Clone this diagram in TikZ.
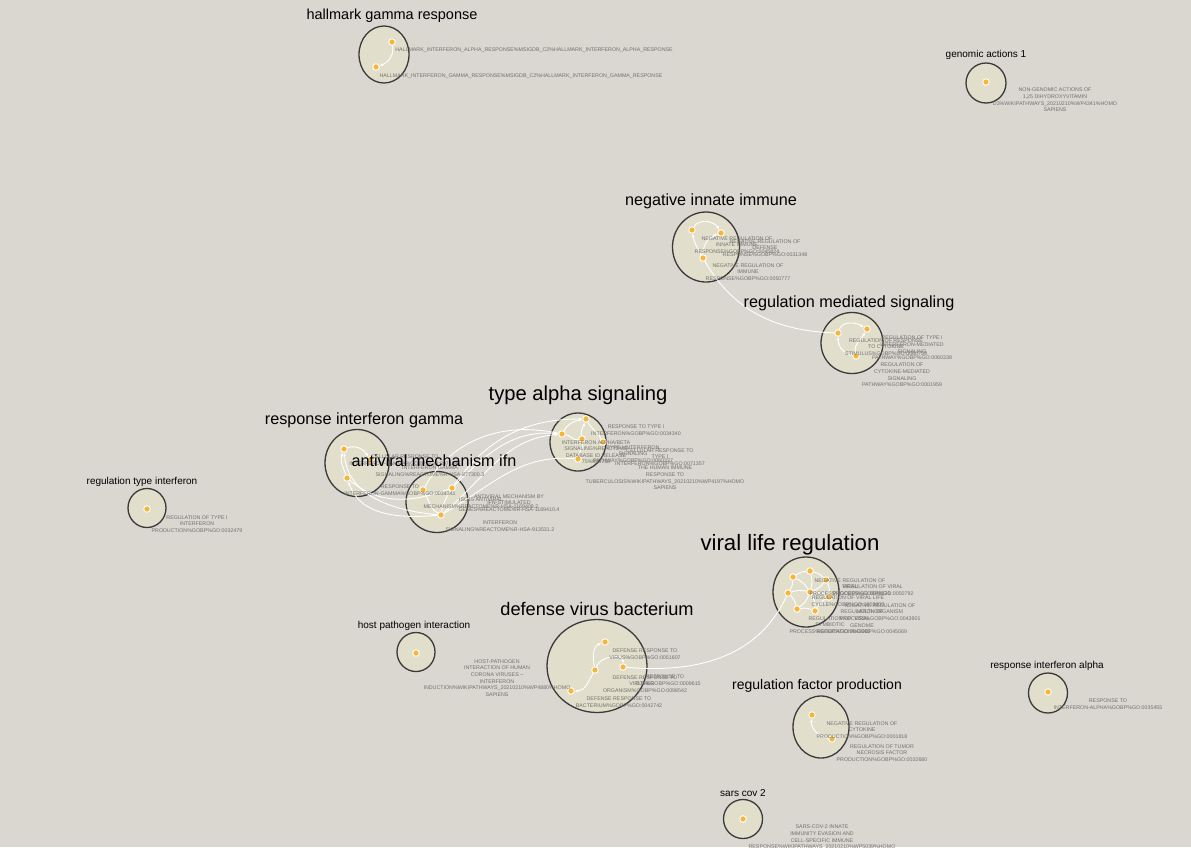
\documentclass[tikz,border=0pt]{standalone}
\usepackage{fontspec}
\setmainfont{Liberation Sans}
\usetikzlibrary{positioning,arrows.meta,shapes.geometric,backgrounds}
\definecolor{canvas}{HTML}{DAD6D0}
\definecolor{blob}{HTML}{E1DFCC}
\definecolor{rim}{HTML}{3A3A3A}
\definecolor{seed}{HTML}{F9B535}
\definecolor{muted}{HTML}{707070}

\begin{document}
\begin{tikzpicture}[x=1pt, y=-1pt, >={Latex[length=3.5pt,width=3pt]},
    clus/.style={ellipse, draw=rim, fill=blob, line width=1.3pt, inner sep=0pt},
    gs/.style={circle, fill=seed, draw=white, line width=0.9pt, inner sep=0pt, minimum size=6.5pt},
    edge/.style={white, line width=0.9pt},
    ttl/.style={font=\fontsize{#1}{#1}\selectfont, inner sep=0pt},
    tag/.style={font=\fontsize{5.3}{6.6}\selectfont, text=muted, align=center, inner sep=0pt}]
  \useasboundingbox (0,0) rectangle (1191,847);

  % clusters
  \begin{scope}[on background layer]
    \fill[canvas] (0,0) rectangle (1191,847);
    \node[clus, minimum width=50pt, minimum height=57pt] (c-hal) at (384,54.5) {};
    \node[clus, minimum width=40pt, minimum height=40pt] (c-gen) at (986,83) {};
    \node[clus, minimum width=67pt, minimum height=70pt] (c-nii) at (706,247) {};
    \node[clus, minimum width=62pt, minimum height=61pt] (c-rms) at (852,343) {};
    \node[clus, minimum width=56pt, minimum height=58pt] (c-tas) at (578,442) {};
    \node[clus, minimum width=64pt, minimum height=67pt] (c-rig) at (357,463) {};
    \node[clus, minimum width=62pt, minimum height=61pt] (c-amf) at (437,502) {};
    \node[clus, minimum width=38pt, minimum height=39pt] (c-rti) at (147,508) {};
    \node[clus, minimum width=66pt, minimum height=70pt] (c-vlr) at (806,592) {};
    \node[clus, minimum width=100pt, minimum height=93pt] (c-dvb) at (597,666) {};
    \node[clus, minimum width=38pt, minimum height=39pt] (c-hpi) at (416,652) {};
    \node[clus, minimum width=56pt, minimum height=62pt] (c-rfp) at (821,727) {};
    \node[clus, minimum width=39pt, minimum height=39pt] (c-scv) at (743,819) {};
    \node[clus, minimum width=39pt, minimum height=40pt] (c-ria) at (1048,693) {};
  \end{scope}

  % gene sets
  \node[gs] (h1) at (392,42) {};
  \node[gs] (h2) at (376,67) {};
  \node[gs] (ga) at (986,82) {};
  \node[gs] (n1) at (692,230) {};
  \node[gs] (n2) at (721,233) {};
  \node[gs] (n3) at (703,258) {};
  \node[gs] (m1) at (838,333) {};
  \node[gs] (m2) at (867,329) {};
  \node[gs] (m3) at (856,356) {};
  \node[gs] (t1) at (586,419) {};
  \node[gs] (t2) at (562,434) {};
  \node[gs] (t3) at (582,439) {};
  \node[gs] (t4) at (603,442) {};
  \node[gs] (t5) at (578,459) {};
  \node[gs] (g1) at (344,449) {};
  \node[gs] (g2) at (370,460) {};
  \node[gs] (g3) at (347,478) {};
  \node[gs] (a1) at (423,490) {};
  \node[gs] (a2) at (452,488) {};
  \node[gs] (a3) at (441,515) {};
  \node[gs] (rt) at (147,509) {};
  \node[gs] (v1) at (793,577) {};
  \node[gs] (v2) at (810,571) {};
  \node[gs] (v3) at (826,580) {};
  \node[gs] (v4) at (788,593) {};
  \node[gs] (v5) at (810,592) {};
  \node[gs] (v6) at (829,597) {};
  \node[gs] (v7) at (797,609) {};
  \node[gs] (v8) at (815,611) {};
  \node[gs] (d1) at (605,642) {};
  \node[gs] (d2) at (623,667) {};
  \node[gs] (d3) at (595,670) {};
  \node[gs] (d4) at (571,691) {};
  \node[gs] (hp) at (416,653) {};
  \node[gs] (f1) at (812,715) {};
  \node[gs] (f2) at (832,739) {};
  \node[gs] (sc) at (743,819) {};
  \node[gs] (ra) at (1048,692) {};

  % similarity edges
  \draw[edge,->] (h1) to[out=-80,in=20] (h2);
  \draw[edge,->] (n1) to[out=60,in=120] (n2);
  \draw[edge,->] (n3) to[out=120,in=-80] (n1);
  \draw[edge,->] (n3) to[out=90,in=200] (n2);
  \draw[edge] (n3) to[out=-60,in=178] (m1);
  \draw[edge,->] (m1) to[out=70,in=150] (m2);
  \draw[edge,->] (m3) to[out=170,in=-90] (m1);
  \draw[edge,->] (m3) to[out=100,in=-120] (m2);
  \draw[edge,->] (t2) to[out=60,in=190] (t1);
  \draw[edge,->] (t3) to[out=100,in=-110] (t1);
  \draw[edge] (t4) to[out=120,in=-60] (t1);
  \draw[edge] (t2) to[out=-10,in=190] (t3);
  \draw[edge] (t5) to[out=80,in=-80] (t3);
  \draw[edge,->] (a2) to[out=55,in=180] (t1);
  \draw[edge,->] (a2) to[out=45,in=175] (t2);
  \draw[edge,->] (a3) to[out=40,in=185] (t2);
  \draw[edge] (a1) to[out=60,in=168] (t2);
  \draw[edge] (a3) to[out=30,in=175] (t5);
  \draw[edge,->] (a3) to[out=185,in=-70] (g3);
  \draw[edge,->] (a3) to[out=175,in=-85] (g1);
  \draw[edge] (a2) to[out=200,in=-40] (g3);
  \draw[edge] (a1) to[out=-60,in=150] (a3);
  \draw[edge] (a2) to[out=-120,in=80] (a3);
  \draw[edge,->] (g3) to[out=110,in=-110] (g1);
  \draw[edge,->] (g1) to[out=20,in=120] (g2);
  \foreach \p/\q in {v1/v2, v2/v3, v1/v4, v1/v5, v2/v5, v3/v5, v4/v5, v5/v6,
                     v3/v6, v4/v7, v5/v7, v7/v8, v8/v6, v5/v8}
    \draw[edge] (\p) to[bend left=15] (\q);
  \draw[edge] (v4) to[out=-115,in=-5] (d2);
  \draw[edge,->] (d3) to[out=100,in=200] (d1);
  \draw[edge,->] (d3) to[out=70,in=90] (d2);
  \draw[edge,->] (d3) to[out=-120,in=0] (d4);
  \draw[edge,->] (f2) to[out=170,in=-95] (f1);

  % gene set labels
  \node[tag] (l-h1) at (534,50) {HALLMARK\_INTERFERON\_ALPHA\_RESPONSE\%MSIGDB\_C2\%HALLMARK\_INTERFERON\_ALPHA\_RESPONSE};
  \node[tag] (l-h2) at (521,76) {HALLMARK\_INTERFERON\_GAMMA\_RESPONSE\%MSIGDB\_C2\%HALLMARK\_INTERFERON\_GAMMA\_RESPONSE};
  \node[tag] (l-ga) at (1055,100) {NON-GENOMIC ACTIONS OF\\1,25 DIHYDROXYVITAMIN\\D3\%WIKIPATHWAYS\_20210210\%WP4341\%HOMO\\SAPIENS};
  \node[tag] (l-n1) at (737,245) {NEGATIVE REGULATION OF\\INNATE IMMUNE\\RESPONSE\%GOBP\%GO:0045824};
  \node[tag] (l-n2) at (765,248) {NEGATIVE REGULATION OF\\DEFENSE\\RESPONSE\%GOBP\%GO:0031348};
  \node[tag] (l-n3) at (748,272) {NEGATIVE REGULATION OF\\IMMUNE\\RESPONSE\%GOBP\%GO:0050777};
  \node[tag] (l-m2) at (912,348) {REGULATION OF TYPE I\\INTERFERON-MEDIATED\\SIGNALING\\PATHWAY\%GOBP\%GO:0060338};
  \node[tag] (l-m1) at (886,347) {REGULATION OF RESPONSE\\TO CYTOKINE\\STIMULUS\%GOBP\%GO:0060759};
  \node[tag] (l-m3) at (902,375) {REGULATION OF\\CYTOKINE-MEDIATED\\SIGNALING\\PATHWAY\%GOBP\%GO:0001959};
  \node[tag] (l-t1) at (636,430) {RESPONSE TO TYPE I\\INTERFERON\%GOBP\%GO:0034340};
  \node[tag] (l-t2) at (596,452) {INTERFERON ALPHA/BETA\\SIGNALING\%REACTOME\\DATABASE ID RELEASE\\75\%909733};
  \node[tag] (l-t3) at (633,454) {TYPE I INTERFERON\\SIGNALING\\PATHWAY\%GOBP\%GO:0060337};
  \node[tag] (l-t4) at (660,457) {CELLULAR RESPONSE TO\\TYPE I\\INTERFERON\%GOBP\%GO:0071357};
  \node[tag] (l-t5) at (665,478) {THE HUMAN IMMUNE\\RESPONSE TO\\TUBERCULOSIS\%WIKIPATHWAYS\_20210210\%WP4197\%HOMO\\SAPIENS};
  \node[tag] (l-g2) at (405,460) {CELLULAR RESPONSE TO\\INTERFERON-GAMMA\%GOBP\%GO:0071346};
  \node[tag] (l-g1) at (430,471) {INTERFERON GAMMA\\SIGNALING\%REACTOME\%R-HSA-877300.3};
  \node[tag] (l-g3) at (400,490) {RESPONSE TO\\INTERFERON-GAMMA\%GOBP\%GO:0034341};
  \node[tag] (l-a1) at (481,503) {ISG15 ANTIVIRAL\\MECHANISM\%REACTOME\%R-HSA-1169408.2};
  \node[tag] (l-a2) at (509,503) {ANTIVIRAL MECHANISM BY\\IFN-STIMULATED\\GENES\%REACTOME\%R-HSA-1169410.4};
  \node[tag] (l-a3) at (500,526) {INTERFERON\\SIGNALING\%REACTOME\%R-HSA-913531.2};
  \node[tag] (l-rt) at (197,524) {REGULATION OF TYPE I\\INTERFERON\\PRODUCTION\%GOBP\%GO:0032479};
  \node[tag] (l-v1) at (850,587) {NEGATIVE REGULATION OF\\VIRAL\\PROCESS\%GOBP\%GO:0048525};
  \node[tag] (l-v2) at (873,590) {REGULATION OF VIRAL\\PROCESS\%GOBP\%GO:0050792};
  \node[tag] (l-v3) at (848,601) {REGULATION OF VIRAL LIFE\\CYCLE\%GOBP\%GO:1903900};
  \node[tag] (l-v4) at (880,612) {NEGATIVE REGULATION OF\\MULTI-ORGANISM\\PROCESS\%GOBP\%GO:0043901};
  \node[tag] (l-v5) at (862,622) {REGULATION OF\\VIRAL\\GENOME\\REPLICATION\%GOBP\%GO:0045069};
  \node[tag] (l-v6) at (830,625) {REGULATION OF\\SYMBIOTIC\\PROCESS\%GOBP\%GO:0043903};
  \node[tag] (l-d1) at (645,654) {DEFENSE RESPONSE TO\\VIRUS\%GOBP\%GO:0051607};
  \node[tag] (l-d3) at (645,684) {DEFENSE RESPONSE TO\\OTHER\\ORGANISM\%GOBP\%GO:0098542};
  \node[tag] (l-d2) at (665,680) {RESPONSE TO\\VIRUS\%GOBP\%GO:0009615};
  \node[tag] (l-d4) at (619,702) {DEFENSE RESPONSE TO\\BACTERIUM\%GOBP\%GO:0042742};
  \node[tag] (l-hp) at (497,678) {HOST-PATHOGEN\\INTERACTION OF HUMAN\\CORONA VIRUSES --\\INTERFERON\\INDUCTION\%WIKIPATHWAYS\_20210210\%WP4880\%HOMO\\SAPIENS};
  \node[tag] (l-f1) at (862,730) {NEGATIVE REGULATION OF\\CYTOKINE\\PRODUCTION\%GOBP\%GO:0001818};
  \node[tag] (l-f2) at (882,753) {REGULATION OF TUMOR\\NECROSIS FACTOR\\PRODUCTION\%GOBP\%GO:0032680};
  \node[tag, anchor=north] (l-sc) at (822,825) {SARS-COV-2 INNATE\\IMMUNITY EVASION AND\\CELL-SPECIFIC IMMUNE\\RESPONSE\%WIKIPATHWAYS\_20210210\%WP5039\%HOMO\\SAPIENS};
  \node[tag] (l-ra) at (1108,704) {RESPONSE TO\\INTERFERON-ALPHA\%GOBP\%GO:0035455};

  % cluster titles
  \node[ttl=14.5] (t-hal) at (392,16) {hallmark gamma response};
  \node[ttl=10] (t-gen) at (986,55) {genomic actions 1};
  \node[ttl=16.2] (t-nii) at (711,201) {negative innate immune};
  \node[ttl=16.2] (t-rms) at (849,303) {regulation mediated signaling};
  \node[ttl=20.2] (t-tas) at (578,395) {type alpha signaling};
  \node[ttl=16.2] (t-rig) at (364,420) {response interferon gamma};
  \node[ttl=16.2] (t-amf) at (434,461) {antiviral mechanism ifn};
  \node[ttl=10] (t-rti) at (142,482) {regulation type interferon};
  \node[ttl=22.2] (t-vlr) at (790,545) {viral life regulation};
  \node[ttl=18.2] (t-dvb) at (597,609) {defense virus bacterium};
  \node[ttl=10] (t-hpi) at (414,626) {host pathogen interaction};
  \node[ttl=14] (t-rfp) at (817,686) {regulation factor production};
  \node[ttl=10] (t-scv) at (743,793) {sars cov 2};
  \node[ttl=10] (t-ria) at (1047,666) {response interferon alpha};
\end{tikzpicture}
\end{document}
